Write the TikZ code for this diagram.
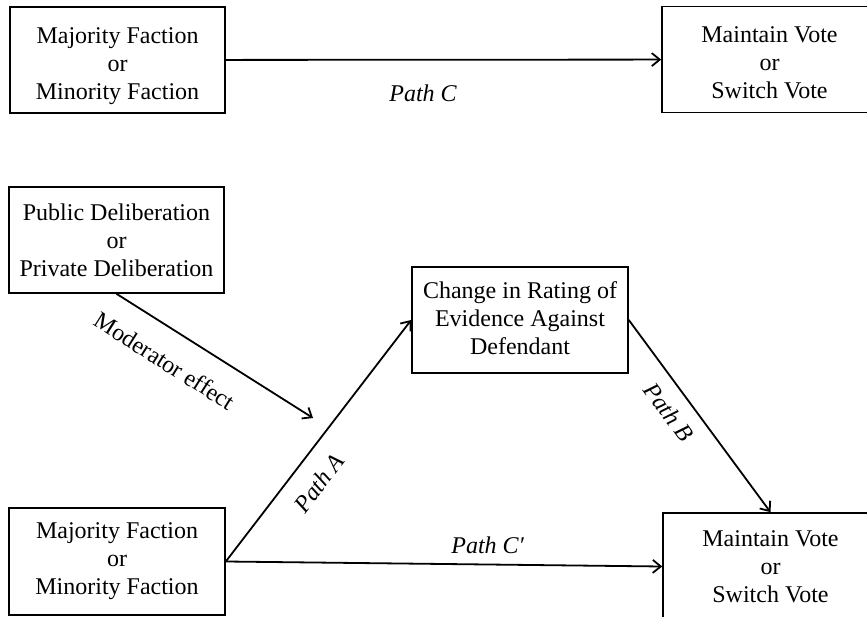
\documentclass[tikz,border=0pt]{standalone}
\usepackage{fontspec}
\setmainfont{Liberation Serif}
\usetikzlibrary{arrows.meta}
\newcommand\lowtext[2]{\raisebox{-#1}[\height][\depth]{\begin{tabular}{@{}c@{}}#2\end{tabular}}}
\begin{document}
\begin{tikzpicture}[x=1pt,y=-1pt,
  box/.style={draw, line width=1.6pt, minimum width=215pt, minimum height=106pt, inner sep=0pt, align=center, font=\fontsize{24}{28}\selectfont},
  conn/.style={line width=1.8pt, -{Straight Barb[length=8pt,width=13pt]}},
  lab/.style={font=\fontsize{24}{27}\selectfont, inner sep=0pt},
  ilab/.style={lab, font=\fontsize{24}{27}\selectfont\itshape}]
\fill[white] (0,0) rectangle (867,617);
\useasboundingbox (0,0) rectangle (867,617);
\node[box] (tl) at (117.5,60) {\lowtext{6pt}{Majority Faction\\or\\Minority Faction}};
\node[box] (tr) at (769.5,59.5) {\lowtext{5pt}{Maintain Vote\\or\\Switch Vote}};
\node[box] (ml) at (116.5,240) {Public Deliberation\\or\\Private Deliberation};
\node[box, minimum width=216pt] (mid) at (520,320) {\lowtext{1pt}{Change in Rating of\\Evidence Against\\Defendant}};
\node[box, minimum width=216pt, minimum height=107pt] (bl) at (117,561.5) {Majority Faction\\or\\Minority Faction};
\node[box, minimum height=107pt] (br) at (770.5,566.5) {\lowtext{2pt}{Maintain Vote\\or\\Switch Vote}};
\coordinate (modend) at (313,418);
\draw[conn] (tl) -- node[ilab, pos=0.453, below=24pt] (pc) {Path C} (tr);
\draw[conn] (ml.south) -- node[lab, sloped, pos=0.33, below=21.5pt] (mod) {Moderator effect} (modend);
\draw[conn] (bl.east) -- node[ilab, sloped, pos=0.39, below=16.6pt] (pa) {Path A} (mid.west);
\draw[conn] (mid.east) -- node[ilab, sloped, pos=0.41, below=12.8pt] (pb) {Path B} (br.north);
\draw[conn] (bl.east) -- node[ilab, pos=0.6, above=10pt] (pcc) {Path C′} (br.west);
\end{tikzpicture}
\end{document}
